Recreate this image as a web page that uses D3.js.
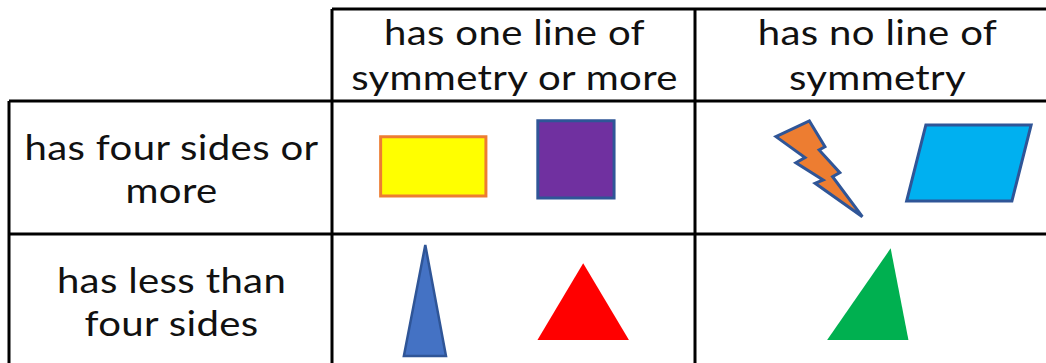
<!DOCTYPE html>
<html>
<head>
<meta charset="utf-8">
<script src="https://cdn.jsdelivr.net/npm/d3@7"></script>
<style>
  body { margin: 0; background: #fff; }
  svg text { font-family: "Lato", "DejaVu Sans", sans-serif; fill: #111; letter-spacing: 0.3px; }
</style>
</head>
<body>
<svg id="chart" width="1046" height="363"></svg>
<script>
// categorias do diagrama de Carroll
const colunas = ["has one line of\nsymmetry or more", "has no line of\nsymmetry"];
const linhas = ["has four sides or\nmore", "has less than\nfour sides"];

// formas: célula (coluna, linha) e pontos em % da célula
const formas = [
  { col: 0, row: 0, fill: "#FFFF00", stroke: "#ED7D31", sw: 3,
    pts: [[13.4, 26.8], [42.4, 26.8], [42.4, 71.4], [13.4, 71.4]] },
  { col: 0, row: 0, fill: "#7030A0", stroke: "#2F5597", sw: 3,
    pts: [[56.7, 14.8], [77.7, 14.8], [77.7, 72.9], [56.7, 72.9]] },
  { col: 1, row: 0, fill: "#ED7D31", stroke: "#2F5597", sw: 3,
    pts: [[22.3, 26.8], [31.5, 15.0], [35.8, 34.4], [34.2, 36.8], [39.9, 53.9], [37.9, 56.9],
          [46.1, 87.0], [33.1, 61.9], [35.3, 59.4], [27.8, 46.4], [30.3, 42.6]] },
  { col: 1, row: 0, fill: "#00B0F0", stroke: "#2F5597", sw: 3,
    pts: [[63.6, 18.0], [92.6, 18.0], [87.3, 75.2], [58.3, 75.2]] },
  { col: 0, row: 1, fill: "#4472C4", stroke: "#2F5597", sw: 2.5,
    pts: [[25.7, 8.3], [31.4, 91.7], [19.8, 91.7]] },
  { col: 0, row: 1, fill: "#FF0000", stroke: "none", sw: 0,
    pts: [[69.2, 22.0], [81.8, 79.7], [56.6, 79.7]] },
  { col: 1, row: 1, fill: "#00B050", stroke: "none", sw: 0,
    pts: [[53.9, 10.8], [58.8, 79.7], [36.4, 79.7]] }
];

const svg = d3.select("#chart");

const labelW = 323, margemE = 9, margemT = 9, headH = 92;
const esticar = 1.18; // a fonte original é mais larga
const x = d3.scaleBand().domain(d3.range(colunas.length)).range([margemE + labelW, margemE + labelW + 726]);
const y = d3.scaleBand().domain(d3.range(linhas.length)).range([margemT + headH, margemT + headH + 266]);

// linhas da tabela
const grade = svg.append("g").attr("stroke", "#000").attr("stroke-width", 3);
const xr = x.range(), yr = y.range();
grade.append("line").attr("x1", xr[0]).attr("x2", 1060).attr("y1", margemT).attr("y2", margemT);
colunas.forEach((c, i) => {
  grade.append("line").attr("x1", x(i)).attr("x2", x(i)).attr("y1", margemT).attr("y2", 380);
});
linhas.forEach((r, i) => {
  grade.append("line").attr("x1", margemE).attr("x2", 1060).attr("y1", y(i)).attr("y2", y(i));
});
grade.append("line").attr("x1", margemE).attr("x2", margemE).attr("y1", yr[0]).attr("y2", 380);

// texto com quebra de linha, centrado e esticado na horizontal
function rotulo(g, cx, yTopo, dy) {
  g.attr("transform", d => `translate(${cx(d)},0) scale(${esticar},1)`)
    .append("text")
    .attr("text-anchor", "middle")
    .attr("font-size", 34)
    .attr("y", yTopo)
    .selectAll("tspan")
    .data(d => d.split("\n"))
    .join("tspan")
    .attr("x", 0)
    .attr("dy", (d, i) => i === 0 ? 0 : dy)
    .text(d => d);
}

// cabeçalhos das colunas
svg.append("g").selectAll("g")
  .data(colunas)
  .join("g")
  .call(rotulo, d => x(colunas.indexOf(d)) + x.bandwidth() / 2 + 1, 45, 45);

// rótulos das linhas
svg.append("g").selectAll("g")
  .data(linhas)
  .join("g")
  .call(rotulo, d => margemE + labelW / 2 + 1, (d, i) => y(i) + 59, 43.5);

// formas dentro das células
svg.append("g").selectAll("polygon")
  .data(formas)
  .join("polygon")
  .attr("points", d => {
    const sx = d3.scaleLinear().domain([0, 100]).range([x(d.col), x(d.col) + x.bandwidth()]);
    const sy = d3.scaleLinear().domain([0, 100]).range([y(d.row), y(d.row) + y.bandwidth()]);
    return d.pts.map(p => sx(p[0]) + "," + sy(p[1])).join(" ");
  })
  .attr("fill", d => d.fill)
  .attr("stroke", d => d.stroke)
  .attr("stroke-width", d => d.sw)
  .attr("stroke-linejoin", "miter");
</script>
</body>
</html>
